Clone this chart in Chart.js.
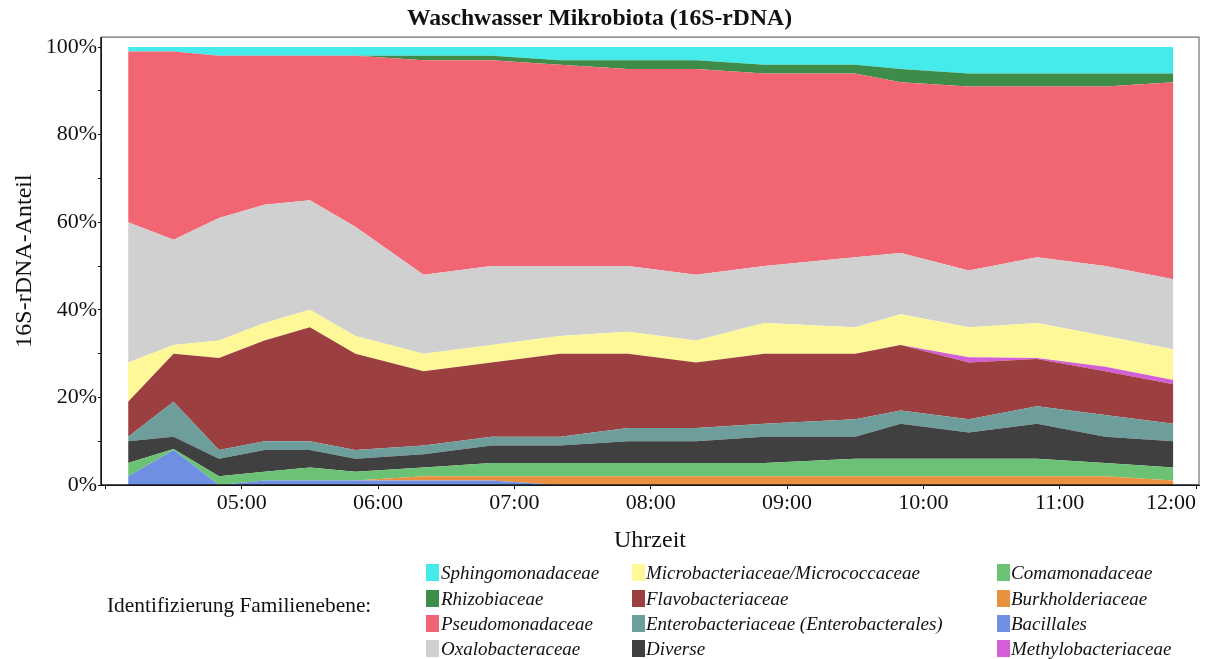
<!DOCTYPE html>
<html>
<head>
<meta charset="utf-8">
<script src="https://cdn.jsdelivr.net/npm/chart.js@4.4.1/dist/chart.umd.min.js"></script>
<style>
  html, body { margin: 0; padding: 0; background: #fff; }
  #wrap { position: relative; width: 1213px; height: 659px; overflow: hidden; }
  #c { position: absolute; left: 0; top: 0; }
  #legend { position: absolute; left: 0; top: 0; width: 1213px; height: 659px; font-family: "Liberation Serif", serif; color: #111; }
  .lt { position: absolute; left: 107px; font-size: 21.4px; line-height: 26px; white-space: nowrap; }
  .li { position: absolute; font-style: italic; font-size: 19px; line-height: 25px; white-space: nowrap; }
  .sw { position: absolute; width: 13px; height: 17px; }
</style>
</head>
<body>
<div id="wrap">
  <canvas id="c" width="1213" height="659"></canvas>
  <div id="legend"></div>
</div>
<script>
// ---- Data (percent of 16S-rDNA reads) ----
const times = ["04:10","04:30","04:50","05:10","05:30","05:50","06:20","06:50","07:20","07:50","08:20","08:50","09:30","09:50","10:20","10:50","11:20","11:50"];

const bacillales          = [2, 8,   0, 1, 1, 1, 1, 1, 0, 0, 0, 0, 0, 0, 0,   0,    0, 0];
const burkholderiaceae    = [0, 0,   0, 0, 0, 0, 1, 1, 2, 2, 2, 2, 2, 2, 2,   2,    2, 1];
const comamonadaceae      = [3, 0.2, 2, 2, 3, 2, 2, 3, 3, 3, 3, 3, 4, 4, 4,   4,    3, 3];
const diverse             = [5, 2.8, 4, 5, 4, 3, 3, 4, 4, 5, 5, 6, 5, 8, 6,   8,    6, 6];
const enterobacteriaceae  = [1, 8,   2, 2, 2, 2, 2, 2, 2, 3, 3, 3, 4, 3, 3,   4,    5, 4];
const flavobacteriaceae   = [8, 11, 21, 23, 26, 22, 17, 17, 19, 17, 15, 16, 15, 15, 13, 10.8, 10, 9];
const methylobacteriaceae = [0, 0,   0, 0, 0, 0, 0, 0, 0, 0, 0, 0, 0, 0, 1.2, 0.2,  1, 1];
const microbacteriaceae   = [9, 2,   4, 4, 4, 4, 4, 4, 4, 5, 5, 7, 6, 7, 6.8, 8,    7, 7];
const oxalobacteraceae    = [32, 24, 28, 27, 25, 25, 18, 18, 16, 15, 15, 13, 16, 14, 13, 15, 16, 16];
const pseudomonadaceae    = [39, 43, 37, 34, 33, 39, 49, 47, 46, 45, 47, 44, 42, 39, 42, 39, 41, 45];
const rhizobiaceae        = [0, 0,   0, 0, 0, 0, 1, 1, 1, 2, 2, 2, 2, 3, 3,   3,    3, 2];
const sphingomonadaceae   = [1, 1,   2, 2, 2, 2, 2, 2, 3, 3, 3, 4, 4, 5, 6,   6,    6, 6];

const yTickValues = [0, 10, 20, 30, 40, 50, 60, 70, 80, 90, 100];
const xTickLabels = ["04:00","05:00","06:00","07:00","08:00","09:00","10:00","11:00","12:00"];

// ---- Helpers ----
const toMin = t => { const p = t.split(':').map(Number); return p[0] * 60 + p[1]; };
const fmt = v => { const h = Math.floor(v / 60), m = Math.round(v % 60); return String(h).padStart(2, '0') + ':' + String(m).padStart(2, '0'); };

// stacking order, bottom to top
const series = [
  { label: 'Bacillales', data: bacillales, color: '#6E8FE2' },
  { label: 'Burkholderiaceae', data: burkholderiaceae, color: '#EA9140' },
  { label: 'Comamonadaceae', data: comamonadaceae, color: '#6CC274' },
  { label: 'Diverse', data: diverse, color: '#404040' },
  { label: 'Enterobacteriaceae (Enterobacterales)', data: enterobacteriaceae, color: '#6E9E9C' },
  { label: 'Flavobacteriaceae', data: flavobacteriaceae, color: '#9C3F40' },
  { label: 'Methylobacteriaceae', data: methylobacteriaceae, color: '#D45ED6' },
  { label: 'Microbacteriaceae/Micrococcaceae', data: microbacteriaceae, color: '#FEF898' },
  { label: 'Oxalobacteraceae', data: oxalobacteraceae, color: '#D0D0D0' },
  { label: 'Pseudomonadaceae', data: pseudomonadaceae, color: '#F26674' },
  { label: 'Rhizobiaceae', data: rhizobiaceae, color: '#3E8C4A' },
  { label: 'Sphingomonadaceae', data: sphingomonadaceae, color: '#45EAEA' }
];

const legendColumns = [
  ['Sphingomonadaceae', 'Rhizobiaceae', 'Pseudomonadaceae', 'Oxalobacteraceae'],
  ['Microbacteriaceae/Micrococcaceae', 'Flavobacteriaceae', 'Enterobacteriaceae (Enterobacterales)', 'Diverse'],
  ['Comamonadaceae', 'Burkholderiaceae', 'Bacillales', 'Methylobacteriaceae']
];

const datasets = series.map((s, i) => ({
  label: s.label,
  data: times.map((t, j) => ({ x: toMin(t), y: s.data[j] })),
  backgroundColor: s.color,
  borderColor: s.color,
  borderWidth: 0,
  pointRadius: 0,
  pointHoverRadius: 0,
  tension: 0,
  fill: i === 0 ? 'origin' : '-1'
}));

const FONT = '"Liberation Serif", serif';

const framePlugin = {
  id: 'frame',
  afterDatasetsDraw(chart) {
    const { ctx, chartArea: a } = chart;
    ctx.save();
    ctx.lineWidth = 1.2;
    ctx.strokeStyle = '#707070';
    ctx.beginPath();
    ctx.moveTo(a.left, a.top); ctx.lineTo(a.right, a.top); ctx.lineTo(a.right, a.bottom);
    ctx.stroke();
    ctx.lineWidth = 1.5;
    ctx.strokeStyle = '#1a1a1a';
    ctx.beginPath();
    ctx.moveTo(a.left, a.top); ctx.lineTo(a.left, a.bottom); ctx.lineTo(a.right, a.bottom);
    ctx.stroke();
    ctx.restore();
  }
};

const chart = new Chart(document.getElementById('c'), {
  type: 'line',
  data: { datasets },
  plugins: [framePlugin],
  options: {
    responsive: false,
    animation: false,
    devicePixelRatio: 1,
    layout: { padding: { left: 0, right: 14, top: 0, bottom: 102 } },
    plugins: {
      legend: { display: false },
      tooltip: { enabled: false },
      title: {
        display: true,
        text: 'Waschwasser Mikrobiota (16S-rDNA)',
        color: '#111',
        font: { family: FONT, size: 23.7, weight: 'bold' },
        padding: { top: 4.6, bottom: 4 }
      }
    },
    scales: {
      x: {
        type: 'linear',
        min: 238.06,
        max: 721.3,
        afterBuildTicks: s => { s.ticks = xTickLabels.map(l => ({ value: toMin(l) })); },
        afterFit: s => { s.height = 72; },
        ticks: {
          callback: v => (v === toMin(xTickLabels[0]) ? '' : fmt(v)),
          color: '#111',
          font: { family: FONT, size: 22 },
          padding: 1,
          maxRotation: 0,
          autoSkip: false,
          align: 'inner'
        },
        grid: { drawOnChartArea: false, tickLength: 4, color: '#111' },
        border: { color: '#111' },
        title: {
          display: true,
          text: 'Uhrzeit',
          color: '#111',
          font: { family: FONT, size: 24 },
          padding: { top: 0, bottom: 2 }
        }
      },
      y: {
        stacked: true,
        min: 0,
        max: 102.3,
        afterBuildTicks: s => { s.ticks = yTickValues.map(v => ({ value: v })); },
        afterFit: s => { s.width = 101; },
        ticks: {
          callback: v => (v % 20 === 0 ? v + '%' : ''),
          color: '#111',
          font: { family: FONT, size: 22 },
          padding: 1
        },
        grid: { drawOnChartArea: false, tickLength: 3, color: '#111' },
        border: { color: '#111' },
        title: {
          display: true,
          text: '16S-rDNA-Anteil',
          color: '#111',
          font: { family: FONT, size: 24 },
          padding: { top: 10.6, bottom: 0 }
        }
      }
    }
  }
});

// ---- HTML legend built from the chart's datasets ----
const legendEl = document.getElementById('legend');
const rowCenters = [572, 598, 623, 648];
const swatchLeft = [426, 632, 997];
const textLeft = [441, 646, 1011];
const lt = document.createElement('div');
lt.className = 'lt';
lt.textContent = 'Identifizierung Familienebene:';
lt.style.top = (605 - 13) + 'px';
legendEl.appendChild(lt);
legendColumns.forEach((col, ci) => {
  col.forEach((name, ri) => {
    const ds = chart.data.datasets.find(d => d.label === name);
    const sw = document.createElement('div');
    sw.className = 'sw';
    sw.style.left = swatchLeft[ci] + 'px';
    sw.style.top = (rowCenters[ri] - 8.5) + 'px';
    sw.style.background = ds.backgroundColor;
    legendEl.appendChild(sw);
    const tx = document.createElement('div');
    tx.className = 'li';
    tx.style.left = textLeft[ci] + 'px';
    tx.style.top = (rowCenters[ri] - 12.5) + 'px';
    tx.textContent = ds.label;
    legendEl.appendChild(tx);
  });
});
</script>
</body>
</html>
